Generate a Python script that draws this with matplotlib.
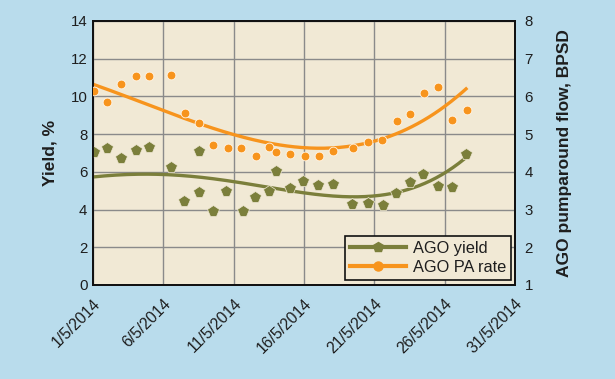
import numpy as np
import matplotlib.pyplot as plt
from matplotlib.lines import Line2D
import matplotlib.transforms as mtransforms

plt.rcParams['font.family'] = ['Liberation Sans', 'DejaVu Sans']

# x positions in days of May 2014
tick_days = [1, 6, 11, 16, 21, 26, 31]
tick_labels = ['1/5/2014', '6/5/2014', '11/5/2014', '16/5/2014',
               '21/5/2014', '26/5/2014', '31/5/2014']

# AGO yield, % (left axis)
yield_day = [1.07, 1.97, 2.99, 4.04, 5.00, 6.54, 7.49, 8.54, 8.56, 9.55,
             10.49, 11.64, 12.52, 13.49, 13.99, 15.00, 15.96, 16.97, 18.03,
             19.43, 20.55, 21.59, 22.56, 23.54, 24.46, 25.53, 26.52, 27.54]
yield_val = [7.07, 7.28, 6.75, 7.16, 7.33, 6.26, 4.47, 7.12, 4.92, 3.94,
             5.01, 3.94, 4.68, 4.98, 6.06, 5.13, 5.52, 5.29, 5.37,
             4.28, 4.33, 4.24, 4.86, 5.48, 5.89, 5.23, 5.18, 6.95]

# AGO pumparound rate, BPSD (right axis)
pa_day = [1.07, 2.02, 2.99, 4.04, 5.00, 6.54, 7.52, 8.56, 9.53, 10.57,
          11.52, 12.57, 13.49, 14.01, 15.03, 16.08, 17.05, 18.06, 19.48,
          20.53, 21.54, 22.59, 23.56, 24.55, 25.55, 26.54, 27.59]
pa_val = [6.14, 5.84, 6.34, 6.55, 6.55, 6.57, 5.57, 5.29, 4.70, 4.63,
          4.63, 4.42, 4.65, 4.52, 4.48, 4.43, 4.42, 4.55, 4.63,
          4.79, 4.85, 5.36, 5.53, 6.09, 6.24, 5.38, 5.63]

# polynomial trend lines, fitted to values
yield_trend_day = [1.02, 3.15, 6.05, 6.95, 8.6, 11.02, 13.35, 15.95,
                   18.56, 20.93, 22.11, 23.54, 26.02, 27.52]
yield_trend_val = [5.74, 5.81, 5.90, 5.87, 5.68, 5.43, 5.18, 4.94,
                   4.77, 4.68, 4.73, 5.13, 6.03, 6.72]
pa_trend_day = [1.14, 3.15, 6.05, 8.6, 11.02, 13.58, 15.95, 17.85,
                19.5, 21.05, 23.54, 26.02, 27.52]
pa_trend_val = [6.30, 6.04, 5.60, 5.27, 5.02, 4.77, 4.62, 4.61,
                4.67, 4.83, 5.20, 5.77, 6.17]

green = '#7b7f3b'
orange = '#f7941d'
bg_out = '#b9dcec'
bg_in = '#f1e9d5'
txt = '#1e1e1e'


def trend(days, vals, deg):
    coef = np.polyfit(days, vals, deg)
    xs = np.linspace(days[0], days[-1], 200)
    return xs, np.polyval(coef, xs)


fig = plt.figure(figsize=(6.15, 3.79), dpi=100, facecolor=bg_out)
ax = fig.add_axes([93 / 615, 94 / 379, 422 / 615, 264 / 379])
ax.set_facecolor(bg_in)
ax2 = ax.twinx()

gx, gy = trend(yield_trend_day, yield_trend_val, 5)
ax.plot(gx, gy, color=green, lw=2.4, zorder=2)
ax.plot(yield_day, yield_val, ls='none', marker='p', ms=8.5, color=green,
        mec=bg_in, mew=0.5, zorder=3)
ox, oy = trend(pa_trend_day, pa_trend_val, 3)
ax2.plot(ox, oy, color=orange, lw=2.4, zorder=2)
ax2.plot(pa_day, pa_val, ls='none', marker='o', ms=6.3, color=orange,
         mec='#fff6e8', mew=0.6, zorder=3)

ax.set_xlim(1, 31)
ax.set_ylim(0, 14)
ax2.set_ylim(1, 8)
ax.set_yticks(range(0, 15, 2))
ax2.set_yticks(range(1, 9))
ax.set_xticks(tick_days)
ax.set_xticklabels(tick_labels, rotation=45, ha='right', va='top',
                   rotation_mode='anchor', fontsize=11.3)
offset = mtransforms.ScaledTranslation(7 / 100, 0, fig.dpi_scale_trans)
for lbl in ax.get_xticklabels():
    lbl.set_transform(lbl.get_transform() + offset)

ax.grid(True, color='#8a8a8a', lw=1)
ax.set_axisbelow(True)
ax.tick_params(axis='both', length=0, labelcolor=txt)
ax.tick_params(axis='y', pad=4, labelsize=10.8)
ax.tick_params(axis='x', pad=8)
ax2.tick_params(axis='y', length=0, labelsize=10.8, labelcolor=txt, pad=7)

for a in (ax, ax2):
    for sp in a.spines.values():
        sp.set_color('#111111')
        sp.set_linewidth(1.3)

ax.set_ylabel('Yield, %', fontsize=12.5, fontweight='bold', color=txt)
ax.yaxis.set_label_coords(-0.085, 0.5)
ax2.set_ylabel('AGO pumparound flow, BPSD', fontsize=12.5, fontweight='bold',
               color=txt)
ax2.yaxis.set_label_coords(1.0995, 0.5)

handles = [
    Line2D([], [], color=green, lw=3, marker='p', ms=7.5, mec=green),
    Line2D([], [], color=orange, lw=3, marker='o', ms=6.5, mec=orange),
]
leg = ax2.legend(handles, ['AGO yield', 'AGO PA rate'], loc='lower right',
                 bbox_to_anchor=(0.99, 0.019), borderaxespad=0, fontsize=11.8,
                 fancybox=False, edgecolor='#111111', facecolor=bg_in,
                 framealpha=1, handlelength=3.4, handletextpad=0.4,
                 labelspacing=0.25, borderpad=0.3)
leg.get_frame().set_linewidth(1.2)
for t in leg.get_texts():
    t.set_color(txt)

fig.savefig('out.png', dpi=100, facecolor=bg_out)
